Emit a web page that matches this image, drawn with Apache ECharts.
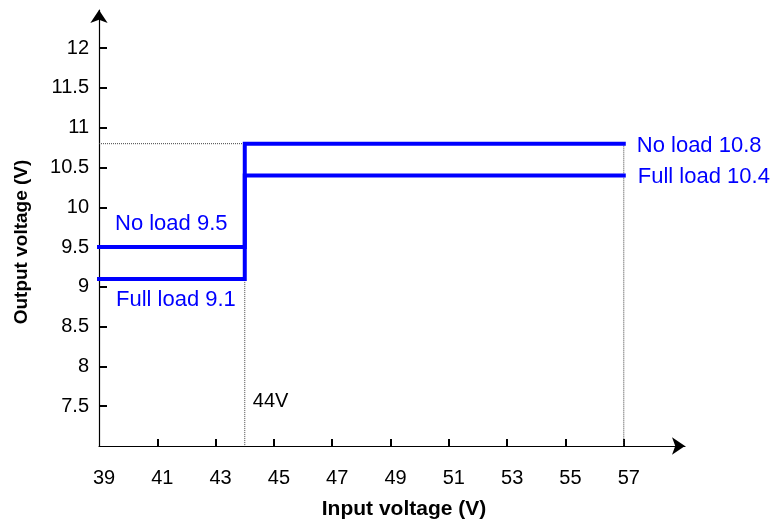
<!DOCTYPE html>
<html>
<head>
<meta charset="utf-8">
<title>Output voltage vs input voltage</title>
<script src="https://cdn.jsdelivr.net/npm/echarts@6/dist/echarts.min.js"></script>
<style>
  html, body { margin: 0; padding: 0; background: #fff; }
  #chart { width: 772px; height: 520px; }
</style>
</head>
<body>
<div id="chart"></div>
<script>
'use strict';

// input voltage breakpoints (V)
var inputV = [39, 44, 44, 57];
// output voltage, no load / full load (V)
var noLoad = [9.5, 9.5, 10.8, 10.8];
var fullLoad = [9.1, 9.1, 10.4, 10.4];

// axis ticks
var xLabels = [39, 41, 43, 45, 47, 49, 51, 53, 55, 57];
var xTicks = [41, 43, 45, 47, 49, 51, 53, 55, 57];
var yTicks = [7.5, 8, 8.5, 9, 9.5, 10, 10.5, 11, 11.5, 12];

var xMin = 39, xMax = 59.1, yMin = 7, yMax = 12.48;
var switchV = 44;

var FONT = '"Liberation Sans", Arial, sans-serif';
var BLUE = '#0000ff';

function pairs(xs, ys) {
	var out = [];
	for (var i = 0; i < xs.length; i++) out.push([xs[i], ys[i]]);
	return out;
}

// text labels next to the lines
function note(text, coord, offset, color, size) {
	return {
		coord: coord,
		value: text,
		label: {
			show: true,
			position: 'inside',
			align: 'left',
			verticalAlign: 'middle',
			offset: offset,
			formatter: text,
			color: color || BLUE,
			fontSize: size || 22,
			fontFamily: FONT
		}
	};
}

var lastX = inputV[inputV.length - 1];
var topY = noLoad[noLoad.length - 1];

var chart = echarts.init(document.getElementById('chart'), null, { renderer: 'canvas' });

var axisLineStyle = {
	show: true,
	onZero: false,
	symbol: ['none', 'arrow'],
	symbolSize: [13, 13],
	lineStyle: { color: '#000', width: 1.2 }
};

var option = {
	animation: false,
	backgroundColor: '#fff',
	grid: { left: 99, right: 87, top: 10, bottom: 74, containLabel: false },
	xAxis: {
		type: 'value',
		min: xMin,
		max: xMax,
		axisLine: axisLineStyle,
		axisTick: {
			show: true,
			inside: true,
			length: 7,
			customValues: xTicks,
			lineStyle: { color: '#000', width: 2 }
		},
		axisLabel: {
			customValues: xLabels,
			margin: 22,
			padding: [0, 0, 0, 10],
			color: '#000',
			fontSize: 20,
			fontFamily: FONT
		},
		splitLine: { show: false }
	},
	yAxis: {
		type: 'value',
		min: yMin,
		max: yMax,
		axisLine: axisLineStyle,
		axisTick: {
			show: true,
			inside: true,
			length: 8,
			customValues: yTicks,
			lineStyle: { color: '#000', width: 2 }
		},
		axisLabel: {
			customValues: yTicks,
			margin: 10,
			padding: [7, 0, 0, 0],
			color: '#000',
			fontSize: 20,
			fontFamily: FONT
		},
		splitLine: { show: false }
	},
	graphic: [
		{
			type: 'text',
			x: 404, y: 509,
			style: {
				text: 'Input voltage (V)',
				fill: '#000',
				font: 'bold 21px ' + FONT,
				align: 'center',
				verticalAlign: 'middle'
			}
		},
		{
			type: 'text',
			x: 22, y: 242,
			rotation: Math.PI / 2,
			style: {
				text: 'Output voltage (V)',
				fill: '#000',
				font: 'bold 19px ' + FONT,
				align: 'center',
				verticalAlign: 'middle'
			}
		}
	],
	series: [
		{
			// dotted guide lines
			name: 'guide1',
			type: 'line',
			data: [[xMin, topY], [switchV, topY], [switchV, yMin]],
			symbol: 'none',
			silent: true,
			lineStyle: { color: '#444', width: 1, type: 'dotted' },
			z: 1
		},
		{
			name: 'guide2',
			type: 'line',
			data: [[lastX, topY], [lastX, yMin]],
			symbol: 'none',
			silent: true,
			lineStyle: { color: '#444', width: 1, type: 'dotted' },
			z: 1
		},
		{
			name: 'No load',
			type: 'line',
			data: pairs(inputV, noLoad),
			symbol: 'none',
			lineStyle: { color: BLUE, width: 4, cap: 'square', join: 'miter' },
			z: 3,
			markPoint: {
				symbol: 'circle',
				symbolSize: 1,
				itemStyle: { color: 'rgba(0,0,0,0)' },
				data: [
					note('No load ' + noLoad[0], [xMin, noLoad[0]], [16, -23]),
					note('No load ' + topY, [lastX, topY], [13, 2]),
					note(switchV + 'V', [switchV, 7.5], [8, -5], '#000', 20)
				]
			}
		},
		{
			name: 'Full load',
			type: 'line',
			data: pairs(inputV, fullLoad),
			symbol: 'none',
			lineStyle: { color: BLUE, width: 4, cap: 'square', join: 'miter' },
			z: 3,
			markPoint: {
				symbol: 'circle',
				symbolSize: 1,
				itemStyle: { color: 'rgba(0,0,0,0)' },
				data: [
					note('Full load ' + fullLoad[0], [xMin, fullLoad[0]], [17, 21]),
					note('Full load ' + fullLoad[fullLoad.length - 1], [lastX, fullLoad[fullLoad.length - 1]], [14, 1])
				]
			}
		}
	]
};

chart.setOption(option);
</script>
</body>
</html>
